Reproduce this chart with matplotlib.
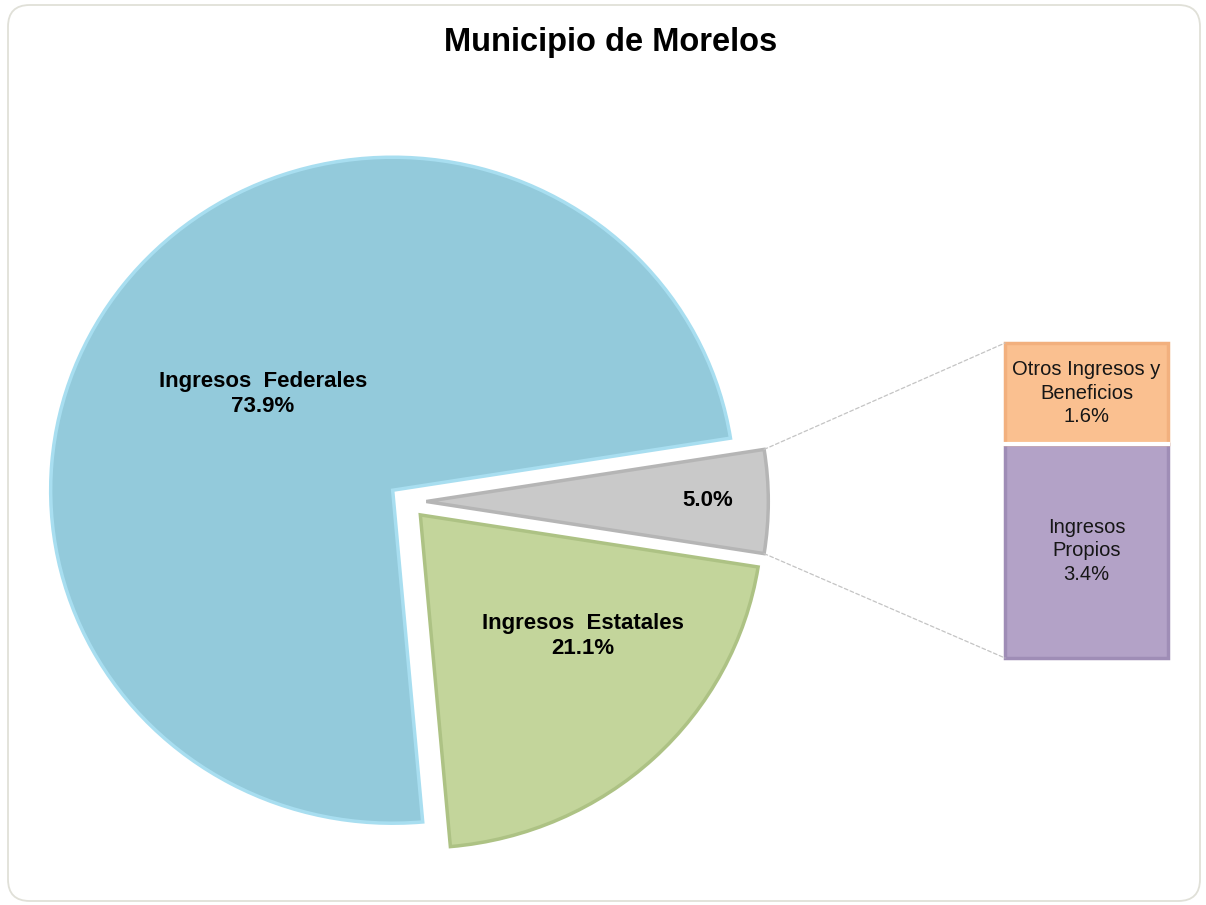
import numpy as np
import matplotlib.pyplot as plt
from matplotlib.patches import FancyBboxPatch, ConnectionPatch

plt.rcParams['font.family'] = ['Liberation Sans', 'DejaVu Sans']

# datos del pastel (el primero es el 5.0% que se desglosa en la barra)
pie_labels = ['', 'Ingresos  Federales', 'Ingresos  Estatales']
pie_values = [5.0, 73.9, 21.1]
pie_colors = ['#c9c9c9', '#93cadb', '#c3d59b']
pie_edges = ['#b5b5b5', '#a8def0', '#adc284']

# desglose del 5.0%
bar_labels = ['Ingresos\nPropios', 'Otros Ingresos y\nBeneficios']
bar_values = [3.4, 1.6]
bar_colors = ['#b3a2c7', '#fac090']
bar_edges = ['#9f8db6', '#f2b07e']

title = 'Municipio de Morelos'

W, H = 1206, 905
fig = plt.figure(figsize=(W / 100, H / 100), dpi=100)
fig.patch.set_facecolor('white')

# marco redondeado del grafico
frame = FancyBboxPatch((8 / W, 4 / H), 1192 / W, 896 / H,
                       boxstyle='round,pad=0,rounding_size=0.018',
                       mutation_aspect=W / H, transform=fig.transFigure,
                       fc='none', ec='#e0e0d8', lw=1.3, zorder=-1)
fig.patches.append(frame)

# pastel (ligeramente eliptico como en la imagen)
ax = fig.add_axes([0, 0, 1, 1])
ax.patch.set_alpha(0)
cx, cy = 407.5, 501.5  # centro en pixeles
rx, ry = 342, 333
wedges, _ = ax.pie(pie_values, colors=pie_colors, startangle=-9,
                   explode=[0.055] * 3, wedgeprops=dict(lw=2.5))
for w, e in zip(wedges, pie_edges):
    w.set_edgecolor(e)
ax.set_aspect('auto')
ax.set_xlim(-cx / rx, (W - cx) / rx)
ax.set_ylim(-(H - cy) / ry, cy / ry)
ax.axis('off')

# etiquetas del pastel
fig.text(263 / W, 1 - 394 / H, f'{pie_labels[1]}\n{pie_values[1]:.1f}%',
         ha='center', va='center', fontsize=16, fontweight='bold', linespacing=1.25)
fig.text(583 / W, 1 - 636 / H, f'{pie_labels[2]}\n{pie_values[2]:.1f}%',
         ha='center', va='center', fontsize=16, fontweight='bold', linespacing=1.25)
fig.text(708 / W, 1 - 500 / H, f'{pie_values[0]:.1f}%',
         ha='center', va='center', fontsize=16, fontweight='bold')

# barra apilada
bx = fig.add_axes([1005 / W, 1 - 658 / H, 163 / W, 315 / H])
bottom = 0
for lab, val, c, e in zip(bar_labels, bar_values, bar_colors, bar_edges):
    bx.bar(0, val, width=1, bottom=bottom, color=c, edgecolor=e, lw=2.5, clip_on=False)
    bx.text(0, bottom + val / 2, f'{lab}\n{val:.1f}%', ha='center', va='center',
            fontsize=14.5, color='#161616', linespacing=1.3)
    bottom += val
bx.axhline(bar_values[0], color='white', lw=3, clip_on=False)
bx.set_xlim(-0.5, 0.5)
bx.set_ylim(0, sum(bar_values))
bx.axis('off')

# lineas de conexion
g = wedges[0]
for ang, yb in [(g.theta2, sum(bar_values)), (g.theta1, 0)]:
    px = g.center[0] + g.r * np.cos(np.radians(ang))
    py = g.center[1] + g.r * np.sin(np.radians(ang))
    con = ConnectionPatch(xyA=(px, py), coordsA=ax.transData,
                          xyB=(-0.5, yb), coordsB=bx.transData,
                          color='#c4c4c4', lw=0.9, ls=(0, (3, 2)))
    fig.add_artist(con)

fig.text(611 / W, 1 - 42 / H, title, ha='center', va='center',
         fontsize=23.5, fontweight='bold')

fig.savefig('out.png', dpi=100)
